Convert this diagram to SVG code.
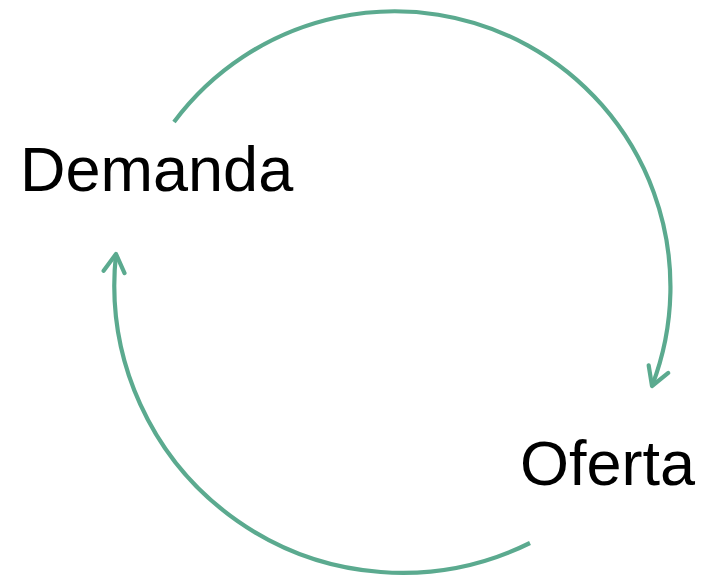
<svg xmlns="http://www.w3.org/2000/svg" width="702" height="578" viewBox="0 0 702 578">
<style>
.arc{fill:none;stroke:#5BAA8F;stroke-width:4.2;marker-end:url(#head)}
.lbl{font-family:"Liberation Sans",Arial,sans-serif;font-size:63px;fill:#000}
</style>
<defs>
<marker id="head" markerUnits="userSpaceOnUse" markerWidth="40" markerHeight="40" refX="0" refY="0" orient="auto" overflow="visible">
<path d="M-18,-10.5 L0,0 L-18,10.5" fill="none" stroke="#5BAA8F" stroke-width="4.2" stroke-linecap="round" stroke-linejoin="round"/>
</marker>
</defs>
<rect width="702" height="578" fill="#fff"/>
<g id="connectors">
<path class="arc" d="M174,122 A275.6,275.6 0 0 1 652,386"/>
<path class="arc" d="M530,543 A288,288 0 0 1 116,254"/>
</g>
<g id="demanda"><text class="lbl" x="20" y="191">Demanda</text></g>
<g id="oferta"><text class="lbl" x="520" y="485">Oferta</text></g>
</svg>
